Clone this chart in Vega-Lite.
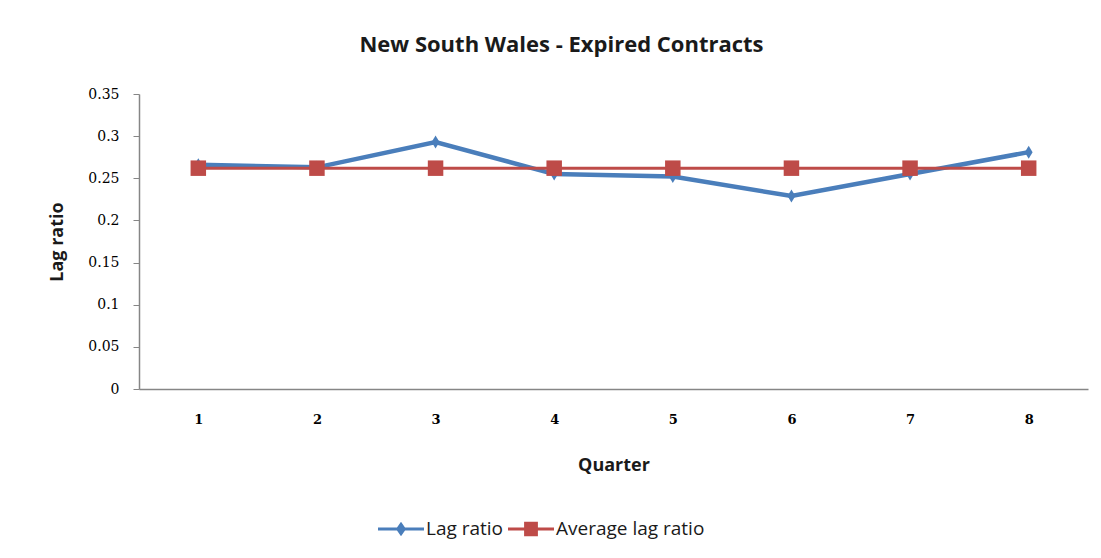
{
  "$schema": "https://vega.github.io/schema/vega-lite/v6.json",
  "autosize": {"type": "none"},
  "padding": {"left": 139, "top": 94, "right": 13, "bottom": 169},
  "width": 949,
  "height": 295,
  "background": "white",
  "title": {
    "text": "New South Wales - Expired Contracts",
    "anchor": "middle",
    "dx": -52,
    "offset": 30,
    "font": "Open Sans",
    "fontSize": 22,
    "fontWeight": "bold",
    "color": "#1a1a1a"
  },
  "data": {
    "values": [
      {"Quarter": "1", "series": "Lag ratio", "value": 0.266},
      {"Quarter": "2", "series": "Lag ratio", "value": 0.263},
      {"Quarter": "3", "series": "Lag ratio", "value": 0.293},
      {"Quarter": "4", "series": "Lag ratio", "value": 0.255},
      {"Quarter": "5", "series": "Lag ratio", "value": 0.252},
      {"Quarter": "6", "series": "Lag ratio", "value": 0.229},
      {"Quarter": "7", "series": "Lag ratio", "value": 0.255},
      {"Quarter": "8", "series": "Lag ratio", "value": 0.281},
      {"Quarter": "1", "series": "Average lag ratio", "value": 0.262},
      {"Quarter": "2", "series": "Average lag ratio", "value": 0.262},
      {"Quarter": "3", "series": "Average lag ratio", "value": 0.262},
      {"Quarter": "4", "series": "Average lag ratio", "value": 0.262},
      {"Quarter": "5", "series": "Average lag ratio", "value": 0.262},
      {"Quarter": "6", "series": "Average lag ratio", "value": 0.262},
      {"Quarter": "7", "series": "Average lag ratio", "value": 0.262},
      {"Quarter": "8", "series": "Average lag ratio", "value": 0.262}
    ]
  },
  "encoding": {
    "x": {
      "field": "Quarter",
      "type": "ordinal",
      "scale": {"type": "point", "padding": 0.5},
      "axis": {
        "title": "Quarter",
        "labelAngle": 0,
        "ticks": false,
        "tickSize": 0,
        "labelPadding": 24,
        "labelFont": "DejaVu Serif",
        "labelFontSize": 13,
        "labelFontWeight": "bold",
        "labelColor": "#000000",
        "domainColor": "#868686",
        "domainWidth": 1.5,
        "grid": false,
        "titleFont": "Open Sans",
        "titleFontSize": 18,
        "titleFontWeight": "bold",
        "titleColor": "#1a1a1a",
        "titleX": 474.5,
        "titleY": 76,
        "titleBaseline": "middle",
        "titleAlign": "center"
      }
    },
    "y": {
      "field": "value",
      "type": "quantitative",
      "scale": {"domain": [0, 0.35], "nice": false},
      "axis": {
        "title": "Lag ratio",
        "values": [0, 0.05, 0.1, 0.15, 0.2, 0.25, 0.3, 0.35],
        "format": "~g",
        "tickSize": 6,
        "tickColor": "#868686",
        "labelPadding": 14,
        "labelFont": "DejaVu Serif",
        "labelFontSize": 14,
        "labelColor": "#000000",
        "domainColor": "#868686",
        "domainWidth": 1.5,
        "grid": false,
        "titleFont": "Open Sans",
        "titleFontSize": 18,
        "titleFontWeight": "bold",
        "titleColor": "#1a1a1a",
        "titleX": -82,
        "titleY": 147.5,
        "titleAngle": -90,
        "titleBaseline": "middle",
        "titleAlign": "center"
      }
    },
    "color": {
      "field": "series",
      "type": "nominal",
      "scale": {"domain": ["Lag ratio", "Average lag ratio"], "range": ["#4A7EBB", "#BE4B48"]},
      "legend": {
        "orient": "none",
        "legendX": 239,
        "legendY": 412,
        "direction": "horizontal",
        "title": null,
        "symbolSize": 2116,
        "columnPadding": 4,
        "labelFont": "Open Sans",
        "labelFontSize": 19,
        "labelColor": "#1a1a1a",
        "labelOffset": 2,
        "encode": {
          "symbols": {
            "update": {
              "shape": {"signal": "datum.value == 'Lag ratio' ? 'M-1,-0.07H1V0.07H-1Z M0,-0.32L0.22,0L0,0.32L-0.22,0Z' : 'M-1,-0.07H1V0.07H-1Z M-0.3,-0.32H0.3V0.32H-0.3Z'"},
              "fill": {"signal": "datum.value == 'Lag ratio' ? '#4A7EBB' : '#BE4B48'"},
              "stroke": {"value": "transparent"},
              "strokeWidth": {"value": 0},
              "fillOpacity": {"value": 1},
              "opacity": {"value": 1}
            }
          }
        }
      }
    }
  },
  "layer": [
    {
      "transform": [{"filter": "datum.series == 'Lag ratio'"}],
      "mark": {"type": "line", "strokeWidth": 4.5},
      "encoding": {}
    },
    {
      "transform": [{"filter": "datum.series == 'Lag ratio'"}],
      "mark": {"type": "point", "shape": "M0,-1L0.6,0L0,1L-0.6,0Z", "filled": true, "size": 170, "opacity": 1},
      "encoding": {}
    },
    {
      "transform": [{"filter": "datum.series == 'Average lag ratio'"}],
      "mark": {"type": "line", "strokeWidth": 3},
      "encoding": {}
    },
    {
      "transform": [{"filter": "datum.series == 'Average lag ratio'"}],
      "mark": {"type": "square", "filled": true, "size": 240, "opacity": 1},
      "encoding": {}
    }
  ],
  "config": {
    "view": {"stroke": null}
  }
}
